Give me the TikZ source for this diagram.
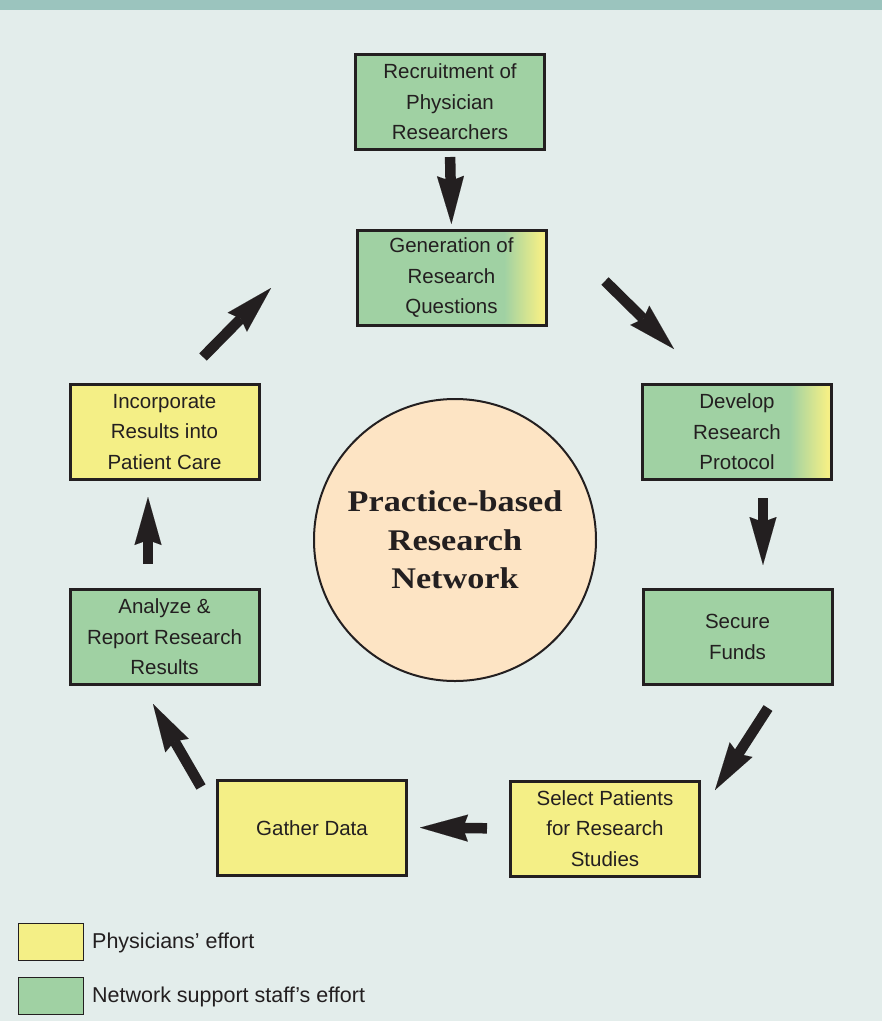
\documentclass[tikz,border=0pt]{standalone}
\usepackage{fontspec}
\setmainfont{Liberation Sans}
\newfontfamily\circfont[FakeStretch=1.14]{Liberation Serif}
\usetikzlibrary{arrows.meta}
\definecolor{bg}{HTML}{E3EDEB}
\definecolor{band}{HTML}{9BC4BE}
\definecolor{grn}{HTML}{A0D1A3}
\definecolor{ylw}{HTML}{F4EF86}
\definecolor{peach}{HTML}{FDE4C4}
\definecolor{ink}{HTML}{231F20}
\begin{document}
\begin{tikzpicture}[x=1pt,y=-1pt,
  box/.style={draw=ink, line width=3pt, minimum width=189pt, minimum height=95pt,
    inner sep=0pt, align=center, text=ink, font=\fontsize{20.5}{30.5}\selectfont},
  gbox/.style={box, fill=grn},
  ybox/.style={box, fill=ylw},
  mixbox/.style={box, fill=grn, path picture={
      \foreach \i in {0,...,37} {
        \pgfmathtruncatemacro{\pc}{\i*100/37}
        \fill[ylw!\pc!grn]
          ([xshift={-42pt+\i*1pt}]path picture bounding box.south east) rectangle
          ([xshift={-40.6pt+\i*1pt}]path picture bounding box.north east);
      }
      \fill[ylw] ([xshift=-5pt]path picture bounding box.south east) rectangle
        (path picture bounding box.north east);}},
  flow/.style={draw=ink, line width=10.5pt,
    -{Stealth[length=48pt,width=27pt,inset=5pt,line width=0.01pt]}},
  legbox/.style={draw=ink, line width=1.3pt, minimum width=65pt, minimum height=37pt, inner sep=0pt},
  legtext/.style={anchor=base west, text=ink, inner sep=0pt, font=\fontsize{21.5}{24}\selectfont},
]
\useasboundingbox (0,0) rectangle (882,1021);
\fill[bg] (0,0) rectangle (882,1021);
\fill[band] (0,0) rectangle (882,10);

% boxes
\node[gbox]   (rec) at (450,102)   {Recruitment of\\Physician\\Researchers};
\node[mixbox] (gen) at (451.5,278) {Generation of\\Research\\Questions};
\node[mixbox] (dev) at (737,432)   {Develop\\Research\\Protocol};
\node[gbox]   (sec) at (737.5,637) {Secure\\Funds};
\node[ybox]   (sel) at (605,828.5) {Select Patients\\for Research\\Studies};
\node[ybox]   (gat) at (312,828)   {Gather Data};
\node[gbox]   (ana) at (164.5,637) {Analyze \&\\Report Research\\Results};
\node[ybox]   (inc) at (164.5,432) {Incorporate\\Results into\\Patient Care};

% centre
\node[circle, draw=ink, line width=2pt, fill=peach, minimum size=282pt, inner sep=0pt,
  align=center, text=ink, font=\circfont\bfseries\fontsize{30}{38.5}\selectfont]
  (prbn) at (455,540) {Practice-based\\Research\\Network};

% arrow end points for diagonal arrows
\coordinate (g2d-a) at (605,281);
\coordinate (g2d-b) at (674,349);
\coordinate (s2p-a) at (768,708);
\coordinate (s2p-b) at (715,790);
\coordinate (g2a-a) at (201,787);
\coordinate (g2a-b) at (153,704);
\coordinate (i2g-a) at (203,357);
\coordinate (i2g-b) at (271,288);

% arrows
\draw[flow, shorten <=6pt, shorten >=5pt] (rec.south) -- (gen.north);
\draw[flow] (g2d-a) -- (g2d-b);
\draw[flow, shorten <=17pt, shorten >=23pt] ([xshift=26pt]dev.south) -- ([xshift=25.5pt]sec.north);
\draw[flow] (s2p-a) -- (s2p-b);
\draw[flow, shorten <=22pt, shorten >=12pt] (sel.west) -- ([yshift=0.5pt]gat.east);
\draw[flow] (g2a-a) -- (g2a-b);
\draw[flow, shorten <=24pt, shorten >=16pt] ([xshift=-16.5pt]ana.north) -- ([xshift=-16.5pt]inc.south);
\draw[flow] (i2g-a) -- (i2g-b);

% legend
\node[legbox, fill=ylw] (ly) at (51,942) {};
\node[legbox, fill=grn] (lg) at (51,996) {};
\node[legtext] (lyt) at (92,948)  {Physicians’ effort};
\node[legtext] (lgt) at (92,1002) {Network support staff’s effort};
\end{tikzpicture}
\end{document}
